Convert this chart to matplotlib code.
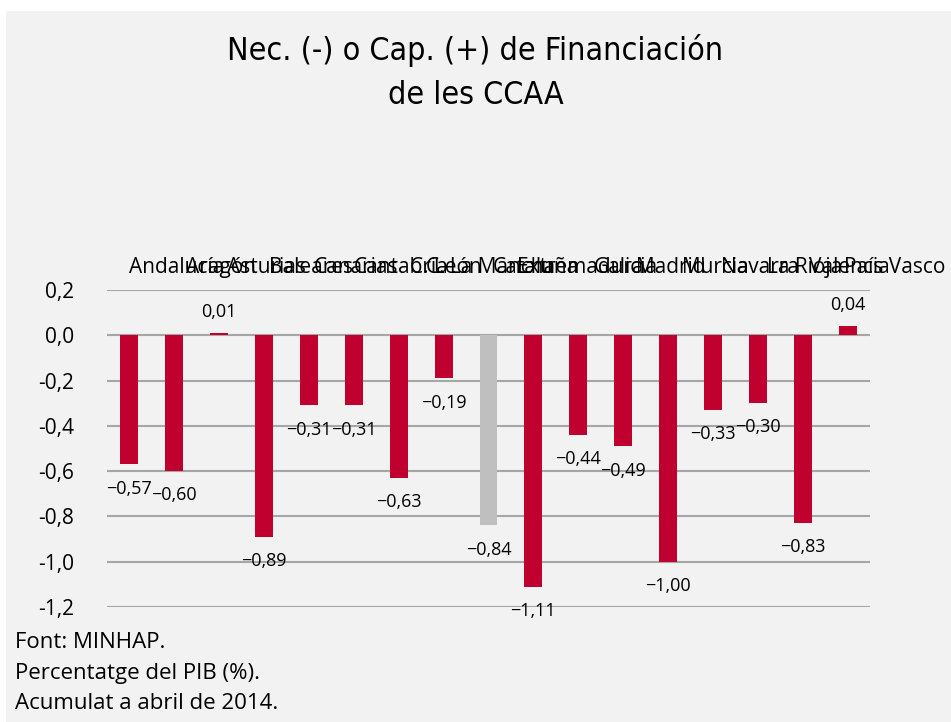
import matplotlib.pyplot as plt
from matplotlib.patches import Rectangle
from matplotlib.ticker import FuncFormatter
import matplotlib.transforms as mtransforms

regions = ["Andalucía", "Aragón", "Asturias", "Baleares", "Canarias", "Cantabria",
           "C. León", "C. La Mancha", "Cataluña", "Extremadura", "Galicia", "Madrid",
           "Murcia", "Navarra", "La Rioja", "Valencia", "País Vasco"]
values = [-0.57, -0.60, 0.01, -0.89, -0.31, -0.31, -0.63, -0.19, -0.84,
          -1.11, -0.44, -0.49, -1.00, -0.33, -0.30, -0.83, 0.04]
highlight = "Cataluña"

red = "#C0002F"
grey_bar = "#BFBFBF"
bg = "#F2F2F2"
font = "Open Sans"

fig = plt.figure(figsize=(9.51, 7.22), dpi=100, facecolor="white")
fig.patches.append(Rectangle((6 / 951, 0), 1, 1 - 11 / 722, transform=fig.transFigure,
                             facecolor=bg, edgecolor="none", zorder=-10))

ax = fig.add_axes([107 / 951, 1 - 607 / 722, 763 / 951, 317 / 722])
ax.set_facecolor(bg)
ax.patch.set_alpha(0)

x = list(range(len(regions)))
colors = [grey_bar if r == highlight else red for r in regions]
ax.bar(x, values, width=0.4, color=colors, zorder=3)

ax.set_xlim(-0.5, len(regions) - 0.5)
ax.set_ylim(-1.2, 0.2)
ax.set_yticks([0.2, 0.0, -0.2, -0.4, -0.6, -0.8, -1.0, -1.2])
ax.yaxis.set_major_formatter(FuncFormatter(lambda v, p: f"{v:.1f}".replace(".", ",")))
ax.set_xticks([])
ax.tick_params(axis="y", length=0, pad=24, labelsize=15)
for lab in ax.get_yticklabels():
    lab.set_fontfamily(font)
ax.grid(axis="y", color="#A6A6A6", linewidth=1.5, zorder=0)
for s in ax.spines.values():
    s.set_visible(False)

# data labels
for xi, v in zip(x, values):
    txt = f"{abs(v):.2f}".replace(".", ",")
    if v < 0:
        ax.annotate("\u2212" + txt, (xi, v), xytext=(0, -11), textcoords="offset points",
                    ha="center", va="top", fontsize=13, family=font, zorder=4)
    else:
        ax.annotate(txt, (xi, v), xytext=(0, 9), textcoords="offset points",
                    ha="center", va="bottom", fontsize=13, family=font, zorder=4)

# category labels (they overlap in the original chart too)
trans = mtransforms.blended_transform_factory(ax.transData, ax.transAxes)
for xi, r in zip(x, regions):
    ax.text(xi + 1.05, 1.07, r, transform=trans, ha="center", va="center",
            fontsize=15, family=font, clip_on=False)

fig.text(0.5, 1 - 34 / 722, "Nec. (-) o Cap. (+) de Financiación\nde les CCAA",
         ha="center", va="top", fontsize=23, family="DejaVu Sans", stretch="condensed",
         linespacing=1.55)

fig.text(15 / 951, 1 - 632 / 722, "Font: MINHAP.\nPercentatge del PIB (%).\nAcumulat a abril de 2014.",
         ha="left", va="top", fontsize=16, family=font, linespacing=1.6)

fig.savefig("out.png", dpi=100, facecolor=fig.get_facecolor())
